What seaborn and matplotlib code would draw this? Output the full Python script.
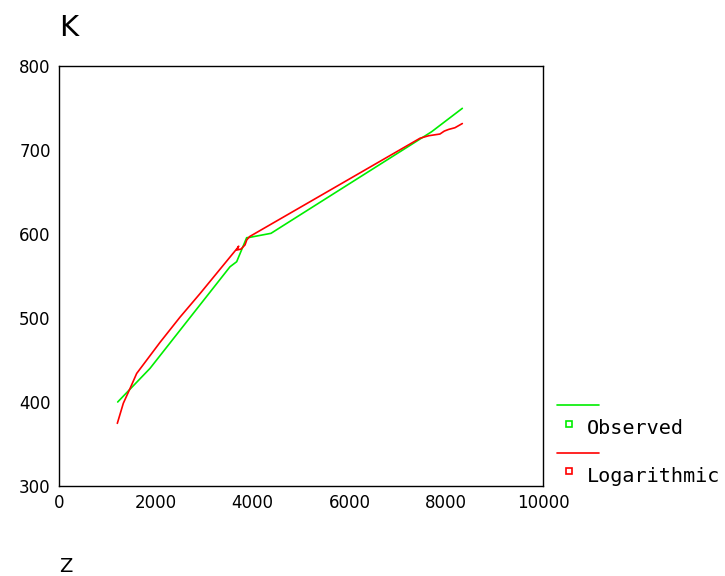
import matplotlib
matplotlib.use("Agg")
import matplotlib.pyplot as plt
import seaborn as sns
import pandas as pd
from matplotlib.lines import Line2D

# Observed series
obs_z = [1213, 1880, 3533, 3671, 3877, 3940, 4380, 7700, 8333]
obs_k = [400, 440, 561, 567, 595.6, 596, 600.8, 721.8, 749.6]

# Logarithmic fit series (as drawn, in data order)
log_z = [1205, 1329, 1467, 1605, 2087, 2500, 2913, 3692, 3712, 3677, 3760, 3843, 3880, 3940,
         7459, 7640, 7870, 7960, 8050, 8180, 8333]
log_k = [374.6, 398.5, 416, 434, 471, 501, 529, 583.7, 585.5, 581, 582, 587, 593, 597,
         714, 717, 719, 722.5, 724.5, 726.5, 731.5]

series_names = ["Observed", "Logarithmic"]
series_colors = ["#00ee00", "#ff0000"]

x_ticks = [0, 2000, 4000, 6000, 8000, 10000]
y_ticks = [300, 400, 500, 600, 700, 800]

sns.set_style("white")
plt.rcParams["font.family"] = ["DejaVu Sans"]
plt.rcParams["text.color"] = "black"
plt.rcParams["xtick.color"] = "black"
plt.rcParams["ytick.color"] = "black"

df_obs = pd.DataFrame({"Z": obs_z, "K": obs_k})
df_log = pd.DataFrame({"Z": log_z, "K": log_k})

fig = plt.figure(figsize=(7.25, 5.76), dpi=100)
ax = fig.add_axes([59/725, 1-486/576, (543-59)/725, (486-66)/576])

sns.lineplot(data=df_obs, x="Z", y="K", ax=ax, sort=False, estimator=None,
             color=series_colors[0], lw=1.2)
sns.lineplot(data=df_log, x="Z", y="K", ax=ax, sort=False, estimator=None,
             color=series_colors[1], lw=1.2)

ax.set_xlim(0, 10000)
ax.set_ylim(300, 800)
ax.set_xticks(x_ticks)
ax.set_yticks(y_ticks)
ax.set_xticklabels([str(t) for t in x_ticks], fontsize=12, color="black")
ax.set_yticklabels([str(t) for t in y_ticks], fontsize=12, color="black")
ax.tick_params(axis="both", direction="out", length=3, width=2.5, color="black", pad=3)
ax.set_xlabel("")
ax.set_ylabel("")
for s in ax.spines.values():
    s.set_color("black")
    s.set_linewidth(1.0)

fig.text(59/725, 1-28/576, "K", fontsize=21, ha="left", va="center", color="black")
fig.text(59/725, 1-566/576, "Z", fontsize=14, ha="left", va="center", color="black")

# Legend
for i, (name, col) in enumerate(zip(series_names, series_colors)):
    yl = 405 + i * 48
    ym = 424 + i * 47
    fig.add_artist(Line2D([557/725, 599/725], [1-yl/576, 1-yl/576], color=col, lw=1.2,
                          transform=fig.transFigure))
    fig.add_artist(Line2D([569/725], [1-ym/576], marker="s", markersize=4.5,
                          markerfacecolor="white", markeredgecolor=col, markeredgewidth=1.2,
                          linestyle="none", transform=fig.transFigure))
    fig.text(587/725, 1-(ym+5)/576, name, fontsize=14.5, family="DejaVu Sans Mono",
             ha="left", va="center", color="black")

fig.savefig("out.png", dpi=100)
